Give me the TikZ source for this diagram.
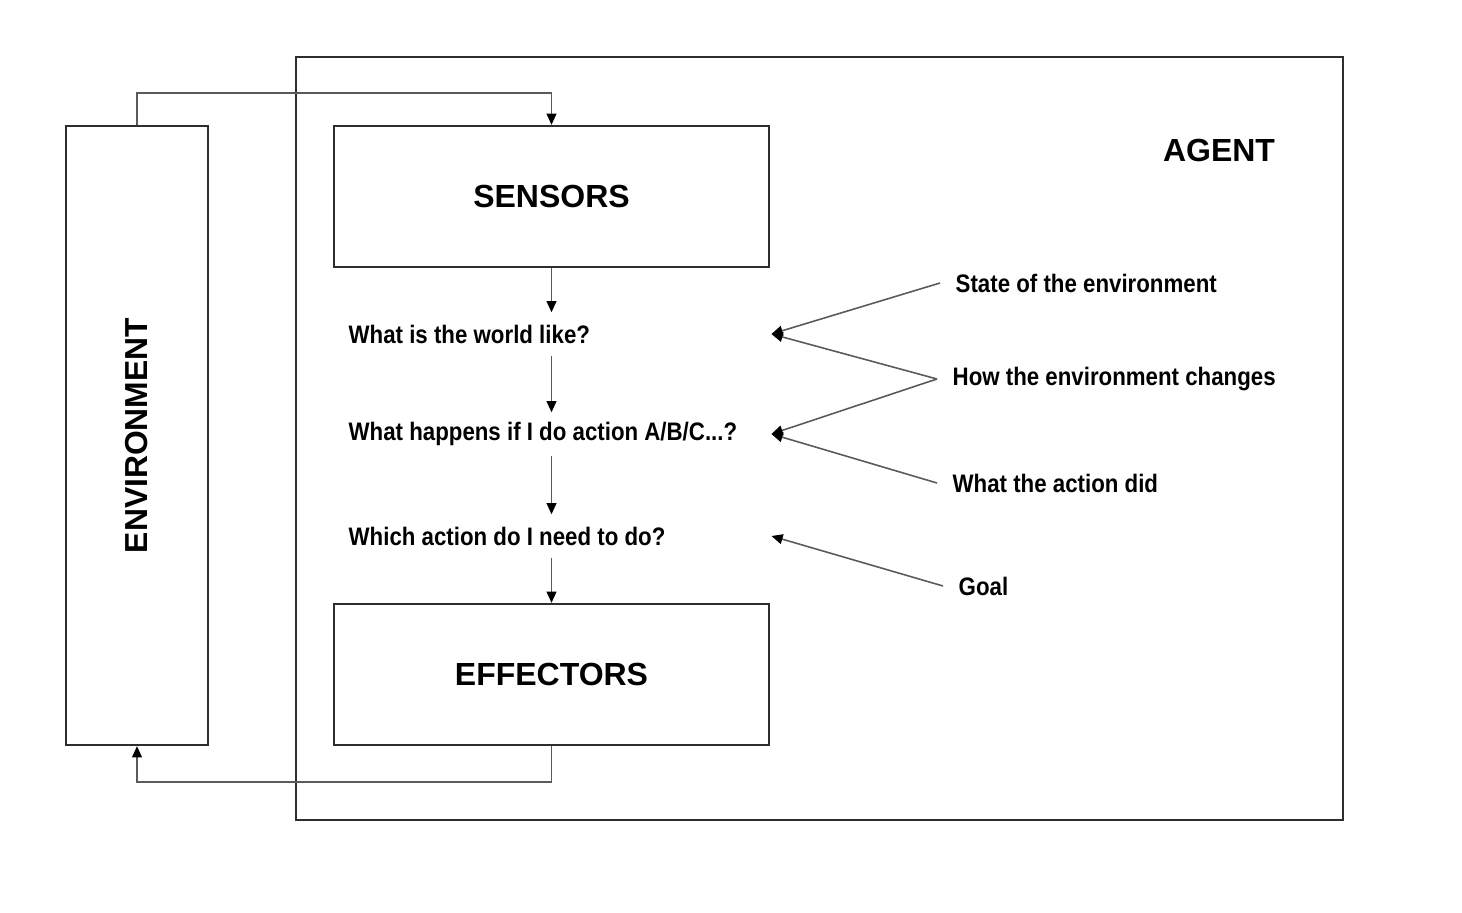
\documentclass[tikz,border=0pt]{standalone}
\usepackage{fontspec}
\setmainfont{Liberation Sans}
\newfontfamily\narrowfont{Liberation Sans}[FakeStretch=0.88]
\usepackage{xcolor}
\usetikzlibrary{arrows.meta}

\definecolor{boxline}{HTML}{2E2E2E}
\definecolor{wireline}{HTML}{5A5A5A}

% question line padded to the common width
\newcommand{\qline}[1]{\makebox[4.12cm][l]{#1}}

\begin{document}
\begin{tikzpicture}[
  box/.style={draw=boxline, line width=0.65pt, minimum width=4.35cm, minimum height=1.41cm,
              inner sep=0pt, font=\fontsize{9.1}{11}\selectfont\bfseries},
  question/.style={anchor=west, inner xsep=1mm, inner ysep=0pt,
              minimum height=0.42cm, font=\narrowfont\fontsize{7.2}{8.6}\selectfont\bfseries},
  source/.style={anchor=west, inner xsep=1.5mm, inner ysep=0pt,
              font=\narrowfont\fontsize{7.2}{8.6}\selectfont\bfseries},
  wire/.style={draw=wireline, line width=0.45pt, -{Triangle[length=3.2pt,width=2.8pt,color=black]}},
]
% --- canvas ---
\useasboundingbox (0,0) rectangle (14.62,9.12);

% --- Agent frame and environment column ---
\draw[boxline, line width=0.65pt] (2.96,0.92) rectangle (13.43,8.55);
\node[font=\fontsize{9.1}{11}\selectfont\bfseries] (agent) at (12.19,7.62) {AGENT};
\node[draw=boxline, line width=0.65pt, minimum width=1.42cm, minimum height=6.19cm, inner sep=0pt]
  (env) at (1.37,4.765) {};
\node[rotate=90, font=\fontsize{9.05}{11}\selectfont\bfseries] (envlabel) at (env.center) {ENVIRONMENT};

% --- Sensors and effectors ---
\node[box] (sensors) at (5.515,7.155) {\raisebox{-0.5pt}{SENSORS}};
\node[box] (effectors) at (5.515,2.375) {EFFECTORS};

% --- Questions down the middle ---
\node[question] (world) at (3.38,5.78) {\qline{What is the world like?}};
\node[question] (happens) at (3.38,4.78) {\qline{What happens if I do action A/B/C...?}};
\node[question] (which) at (3.38,3.76) {\qline{Which action do I need to do?}};

% --- Knowledge on the right ---
\node[source] (state) at (9.40,6.29) {State of the environment};
\node[source] (changes) at (9.37,5.33) {How the environment changes};
\node[source] (did) at (9.37,4.29) {What the action did};
\node[source] (goal) at (9.43,3.26) {Goal};

% --- Vertical flow ---
\draw[wire] (sensors.south) -- (sensors.south |- world.north);
\draw[wire] (sensors.south |- world.south) -- (sensors.south |- happens.north);
\draw[wire] (sensors.south |- happens.south) -- (sensors.south |- which.north);
\draw[wire] (sensors.south |- which.south) -- (effectors.north);

% --- Inputs from the right ---
\draw[wire] (state.west) -- (world.east);
\draw[wire] (changes.west) -- (world.east);
\draw[wire] (changes.west) -- (happens.east);
\draw[wire] (did.west) -- (happens.east);
\draw[wire] (goal.west) -- (which.east);

% --- Loop through the environment ---
\draw[wire] (env.north) -- ++(0,0.32) -| (sensors.north);
\draw[wire] (effectors.south) -- ++(0,-0.36) -| (env.south);
\end{tikzpicture}
\end{document}
